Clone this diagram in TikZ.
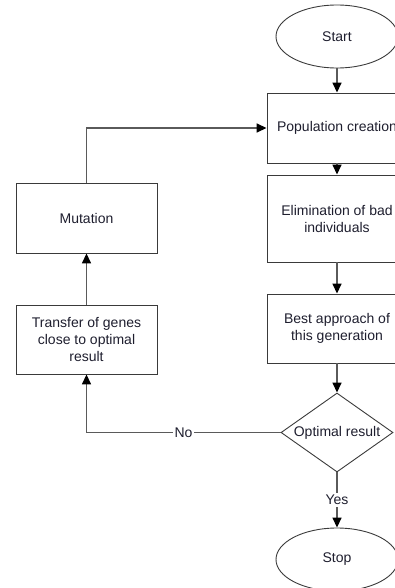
\documentclass[tikz,border=0pt]{standalone}
\usepackage{fontspec}
\setmainfont{Liberation Sans}
\usetikzlibrary{arrows.meta,shapes.geometric}
\definecolor{linegray}{HTML}{5A5A5A}
\definecolor{edgegray}{HTML}{3A3A3A}
\definecolor{txt}{HTML}{1E1E2E}
\begin{document}
\begin{tikzpicture}[x=1pt,y=-1pt,
    every node/.style={font=\fontsize{14}{17}\selectfont, text=txt},
    stepbox/.style={draw=edgegray, line width=0.9pt, rectangle, minimum width=140pt, inner sep=0pt, align=center},
    terminal/.style={draw=edgegray, line width=0.9pt, ellipse, minimum width=122pt, minimum height=63pt, inner sep=0pt},
    decision/.style={draw=edgegray, line width=0.9pt, diamond, aspect=1.42, minimum width=112pt, minimum height=79pt, inner sep=0pt},
    flow/.style={draw=linegray, line width=1.5pt, -{Triangle[length=10pt,width=9pt,black]}},
    lbl/.style={fill=white, inner sep=2pt}]
    \useasboundingbox (0,0) rectangle (395,588);
    \node[terminal] (start) at (337,36.5) {Start};
    \node[stepbox, minimum height=70pt] (pop) at (337,128) {Population creation};
    \node[stepbox, minimum height=87pt] (elim) at (337,218.5) {Elimination of bad\\individuals};
    \node[stepbox, minimum height=69pt] (best) at (337,328.5) {Best approach of\\this generation};
    \node[decision] (opt) at (337,432.5) {Optimal result};
    \node[terminal] (stop) at (337,559.5) {Stop};
    \node[stepbox, minimum width=141pt, minimum height=70pt] (mut) at (86.5,218) {Mutation};
    \node[stepbox, minimum width=141pt, minimum height=69pt] (transfer) at (86.5,339.5) {Transfer of genes\\close to optimal\\result};
    \draw[flow] (start) -- (pop);
    \draw[flow] (pop) -- (elim);
    \draw[flow] (elim) -- (best);
    \draw[flow] (best) -- (opt);
    \draw[flow] (opt) -- node[lbl] {Yes} (stop);
    \draw[flow] (opt.west) -| node[lbl, pos=0.25] {No} (transfer.south);
    \draw[flow] (transfer) -- (mut);
    \draw[flow] (mut.north) |- (pop.west);
\end{tikzpicture}
\end{document}
